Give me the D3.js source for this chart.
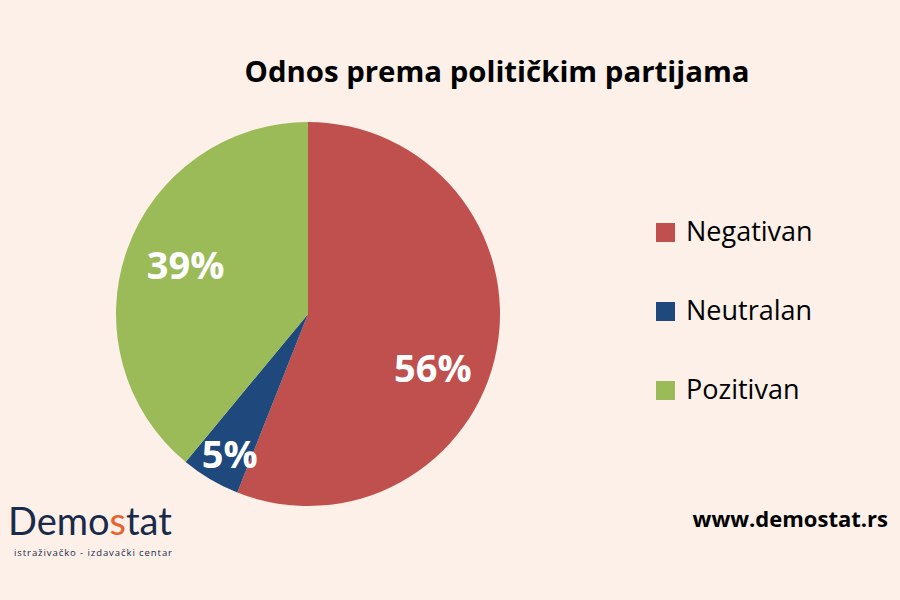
<!DOCTYPE html>
<html>
<head>
<meta charset="utf-8">
<script src="https://cdn.jsdelivr.net/npm/d3@7"></script>
<style>
  body { margin: 0; background: #fcf0e8; }
  svg { display: block; font-family: "Open Sans", sans-serif; }
</style>
</head>
<body>
<svg id="chart" width="900" height="600"></svg>
<script>
var labels = ["Negativan", "Neutralan", "Pozitivan"];
var values = [56, 5, 39];
var colors = ["#c0504d", "#1f497d", "#9bbb59"];

var svg = d3.select("#chart");
svg.append("rect").attr("width", 900).attr("height", 600).attr("fill", "#fcf0e8");

svg.append("text").attr("x", 497).attr("y", 82).attr("text-anchor", "middle")
  .attr("font-size", 28).attr("font-weight", "bold").attr("fill", "#000")
  .attr("textLength", 505).attr("lengthAdjust", "spacingAndGlyphs")
  .text("Odnos prema političkim partijama");

var cx = 308, cy = 314, r = 192;
var pie = d3.pie().sort(null).value(function (d) { return d; });
var arc = d3.arc().innerRadius(0).outerRadius(r);
var arcs = pie(values);
var g = svg.append("g").attr("transform", "translate(" + cx + "," + cy + ")");
g.selectAll("path").data(arcs).enter().append("path")
  .attr("d", arc).attr("fill", function (d, i) { return colors[i]; });

// label positions relative to each slice centroid
var labelArc = [d3.arc().innerRadius(r * 0.72).outerRadius(r * 0.72),
                d3.arc().innerRadius(r * 0.82).outerRadius(r * 0.82),
                d3.arc().innerRadius(r * 0.65).outerRadius(r * 0.65)];
var nudge = [[-11, 29], [2, 5], [-5, -6]];
g.selectAll("text.pct").data(arcs).enter().append("text")
  .attr("class", "pct")
  .attr("transform", function (d, i) {
    var c = labelArc[i].centroid(d);
    return "translate(" + (c[0] + nudge[i][0]) + "," + (c[1] + nudge[i][1]) + ")";
  })
  .attr("text-anchor", "middle").attr("dy", "0.35em")
  .attr("font-size", 38).attr("font-weight", "bold").attr("fill", "#fff")
  .text(function (d) { return d.value + "%"; });

var leg = svg.append("g").attr("transform", "translate(656,232)");
labels.forEach(function (l, i) {
  var row = leg.append("g").attr("transform", "translate(0," + (i * 79) + ")");
  row.append("rect").attr("x", 0).attr("y", -9).attr("width", 19).attr("height", 19).attr("fill", colors[i]);
  row.append("text").attr("x", 30).attr("y", 0).attr("dy", "0.35em")
    .attr("font-size", 27).attr("fill", "#000").text(l);
});

svg.append("text").attr("x", 888).attr("y", 527).attr("text-anchor", "end")
  .attr("font-size", 22).attr("font-weight", "bold").attr("fill", "#000").text("www.demostat.rs");

var logo = svg.append("text").attr("x", 8).attr("y", 535).attr("font-size", 38)
  .attr("fill", "#1a2a4a").attr("font-family", "Lato, sans-serif");
logo.append("tspan").text("Demo");
logo.append("tspan").attr("fill", "#e8602c").text("s");
logo.append("tspan").text("tat");
svg.append("text").attr("x", 14).attr("y", 556).attr("font-size", 9.5)
  .attr("fill", "#1a2a4a").attr("textLength", 158).attr("lengthAdjust", "spacing")
  .text("istraživačko - izdavački  centar");
</script>
</body>
</html>
